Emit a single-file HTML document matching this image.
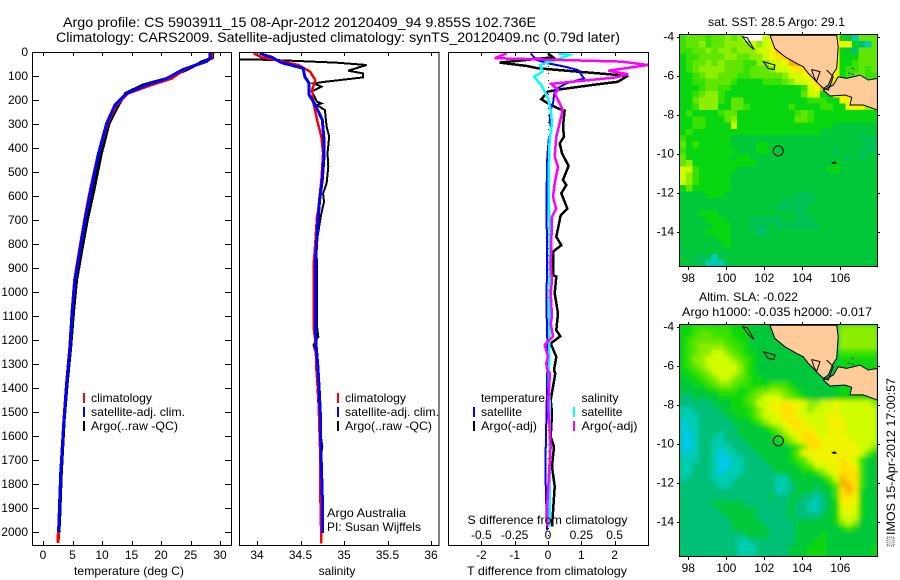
<!DOCTYPE html>
<html>
<head>
<meta charset="utf-8">
<style>
html,body{margin:0;padding:0;background:#fff;}
svg{display:block;}
text{font-family:"Liberation Sans",sans-serif;font-size:12px;fill:#000;}
</style>
</head>
<body>
<svg id="chart" xmlns="http://www.w3.org/2000/svg" width="900" height="580" viewBox="0 0 900 580">
<defs>
<clipPath id="clip-t"><rect x="33" y="52" width="198" height="493"/></clipPath>
<clipPath id="clip-s"><rect x="240" y="52" width="199" height="493"/></clipPath>
<clipPath id="clip-d"><rect x="449" y="52" width="199" height="493"/></clipPath>
<clipPath id="clip-m1"><rect x="680" y="35" width="197" height="232"/></clipPath>
<clipPath id="clip-m2"><rect x="680" y="325" width="197" height="232"/></clipPath>
<filter id="smooth" x="-5%" y="-5%" width="110%" height="110%"><feGaussianBlur stdDeviation="2"/></filter>
</defs>
<rect width="900" height="580" fill="#fff"/>
<text x="63" y="27" style="font-size:14px" textLength="473" lengthAdjust="spacingAndGlyphs">Argo profile: CS 5903911_15 08-Apr-2012 20120409_94 9.855S 102.736E</text>
<text x="56" y="42" style="font-size:14px" textLength="564" lengthAdjust="spacingAndGlyphs">Climatology: CARS2009. Satellite-adjusted climatology: synTS_20120409.nc (0.79d later)</text>

<g id="panel-t"></g>
<g id="panel-s"></g>
<g id="panel-d"></g>
<g id="map-1"></g>
<g id="map-2"></g>

<text x="129" y="575" text-anchor="middle" textLength="110" lengthAdjust="spacingAndGlyphs">temperature (deg C)</text>
<text x="337" y="575" text-anchor="middle">salinity</text>
<text x="547" y="575" text-anchor="middle" textLength="160" lengthAdjust="spacingAndGlyphs">T difference from climatology</text>
<text x="547.5" y="524" text-anchor="middle" textLength="160" lengthAdjust="spacingAndGlyphs">S difference from climatology</text>

<g>
<rect x="83" y="393" width="2" height="10" fill="#f00"/>
<text x="91" y="402" textLength="61" lengthAdjust="spacingAndGlyphs">climatology</text>
<rect x="83" y="407" width="2" height="10" fill="#00f"/>
<text x="91" y="416" textLength="94" lengthAdjust="spacingAndGlyphs">satellite-adj. clim.</text>
<rect x="83" y="421" width="2" height="10" fill="#000"/>
<text x="91" y="430" textLength="87" lengthAdjust="spacingAndGlyphs">Argo(..raw -QC)</text>
</g>
<g>
<rect x="337" y="393" width="2" height="10" fill="#f00"/>
<text x="345" y="402" textLength="61" lengthAdjust="spacingAndGlyphs">climatology</text>
<rect x="337" y="407" width="2" height="10" fill="#00f"/>
<text x="345" y="416" textLength="94" lengthAdjust="spacingAndGlyphs">satellite-adj. clim.</text>
<rect x="337" y="421" width="2" height="10" fill="#000"/>
<text x="345" y="430" textLength="87" lengthAdjust="spacingAndGlyphs">Argo(..raw -QC)</text>
</g>
<g>
<text x="481" y="402" textLength="64" lengthAdjust="spacingAndGlyphs">temperature</text>
<rect x="473" y="407" width="2" height="10" fill="#00f"/>
<text x="481" y="416" textLength="41" lengthAdjust="spacingAndGlyphs">satellite</text>
<rect x="473" y="421" width="2" height="10" fill="#000"/>
<text x="481" y="430" textLength="56" lengthAdjust="spacingAndGlyphs">Argo(-adj)</text>
<text x="581.5" y="402" textLength="37" lengthAdjust="spacingAndGlyphs">salinity</text>
<rect x="573" y="407" width="2" height="10" fill="#0ff"/>
<text x="581.5" y="416" textLength="41" lengthAdjust="spacingAndGlyphs">satellite</text>
<rect x="573" y="421" width="2" height="10" fill="#f0f"/>
<text x="581.5" y="430" textLength="56" lengthAdjust="spacingAndGlyphs">Argo(-adj)</text>
</g>
<text x="327" y="517" textLength="79" lengthAdjust="spacingAndGlyphs">Argo Australia</text>
<text x="327" y="531" textLength="94" lengthAdjust="spacingAndGlyphs">PI: Susan Wijffels</text>

<text x="776.5" y="26" text-anchor="middle" textLength="137" lengthAdjust="spacingAndGlyphs">sat. SST: 28.5 Argo: 29.1</text>
<text x="748.5" y="301" text-anchor="middle" textLength="99" lengthAdjust="spacingAndGlyphs">Altim. SLA: -0.022</text>
<text x="777" y="316" text-anchor="middle" textLength="190" lengthAdjust="spacingAndGlyphs">Argo h1000: -0.035 h2000: -0.017</text>

<g>
<rect x="887" y="537" width="7" height="9" fill="#ddd" stroke="#555" stroke-width="1" stroke-dasharray="1 1"/>
<text transform="translate(895 535) rotate(-90)" textLength="157" lengthAdjust="spacingAndGlyphs">IMOS 15-Apr-2012 17:00:57</text>
</g>
</svg>
<script>
/* ---- temperature panel data ---- */
const tempDepth = [0,25,40,72,110,137,172,221,297,422,589,700,838,950,1075,1229,1380,1533,1754,1963,2045];
const tempClim  = [28.6,28.5,27.6,24,21.8,18.3,14.4,12.4,10.9,9.4,7.9,7.05,6.1,5.35,4.95,4.55,4.0,3.55,3.0,2.7,2.5];
const tempSatDepth = [0,25,40,72,110,137,172,221,297,422,589,700,838,950,1075,1229,1380,1533,1754,1963,2000];
const tempSat   = [28.3,28.3,27.7,23.8,21,17.6,14.2,12.2,10.8,9.4,8,7.1,6.16,5.4,4.97,4.58,4.0,3.56,3.0,2.7,2.65];
const tempArgoDepth = [0,25,40,72,110,137,172,221,297,422,589,700,838,950,1075,1229,1380,1533,1754,1963,2030];
const tempArgo  = [28.8,28.7,27,24.5,21,17,14,12.8,11.2,9.9,8.5,7.5,6.5,5.7,5.2,4.7,4.1,3.6,3.1,2.8,2.6];
const tempTicks = [0,5,10,15,20,25,30];
const depthTicks = [0,100,200,300,400,500,600,700,800,900,1000,1100,1200,1300,1400,1500,1600,1700,1800,1900,2000];

/* ---- salinity panel data ---- */
const salClimDepth = [6,22,36,54,82,117,158,214,297,353,422,533,603,658,686,797,895,1145,1200,1284,1339,1422,1658,1880,2047];
const salClim      = [33.96,34.05,34.245,34.475,34.61,34.67,34.635,34.65,34.70,34.74,34.76,34.74,34.72,34.705,34.69,34.67,34.65,34.65,34.67,34.68,34.685,34.705,34.725,34.73,34.74];
const salSatDepth  = [6,22,44,68,103,131,179,221,283,367,436,533,617,658,770,895,1145,1228,1311,1408,1505,1658,1853,2005];
const salSat       = [34.03,34.17,34.28,34.53,34.55,34.60,34.60,34.67,34.75,34.77,34.77,34.75,34.72,34.71,34.69,34.67,34.67,34.68,34.70,34.715,34.728,34.735,34.75,34.75];
const salArgoDepth = [26,31,33,44,54,78,89,106,124,131,144,165,207,214,221,242,311,353,422,478,547,589,624,672,825,867,1145,1186,1221,1270,1367,1464,1561,1644,1700];
const salArgo      = [33.70,33.80,34.17,34.90,35.26,35.05,35.22,35.22,34.78,34.65,34.74,34.63,34.69,34.74,34.69,34.78,34.80,34.83,34.81,34.82,34.80,34.76,34.77,34.74,34.67,34.69,34.69,34.705,34.65,34.69,34.69,34.705,34.72,34.75,34.73];
const salTicks = [34,34.5,35,35.5,36];

/* ---- difference panel data ---- */
const dTSatDepth  = [6,33,47,61,75,110,131,158,214,242,283,325,367,436,631,700,756,922,1034,1200,1325,1464,1658,1797,1992];
const dTSat       = [-.52,-.35,0,.5,.9,1.08,.55,.2,.15,.08,.05,.1,.02,-.02,-.05,-.05,-.03,-.03,-.05,-.02,-.02,-.04,-.07,-.07,-.03];
const dTArgoDepth = [6,22,44,58,68,96,103,124,138,155,165,197,214,235,244,311,353,381,422,475,533,554,589,652,680,770,805,832,930,936,1006,1089,1159,1184,1214,1270,1325,1339,1450,1505,1603,1644,1728,1811,1978];
const dTArgo      = [0,.15,-1.45,-.65,-.3,2.1,2.35,2.1,1.3,.4,0,-.2,0,.3,.5,.45,.48,.35,.42,.62,.45,.55,.4,.58,.38,.25,.4,.15,.15,.25,.2,.3,.25,.37,.08,.25,.18,.22,.08,.12,.08,.18,.12,.2,.12];
const dSSatDepth  = [6,12,26,54,82,103,138,193,242,297,367,505,658,756,1311,1367,1505,1978];
const dSSat       = [.075,.16,.1,-.06,-.04,-.105,-.05,0,.02,.03,.012,.005,.0075,.015,.0075,.005,.015,.0125];
const dSArgoDepth = [6,26,40,54,78,92,106,133,158,172,214,242,325,353,436,478,547,603,631,652,686,798,895,950,1006,1103,1131,1186,1221,1270,1297,1325,1339,1464,1644,1880,1978];
const dSArgo      = [-.31,-.4,.55,.75,.45,.6,.51,.025,.075,.05,.0875,.11,.075,.0625,.05,.075,.05,.0375,.05,.0625,.03,.025,.02,.03,.02,.03,.02,.0375,-.025,0,-.0125,-.005,.015,0,.02,-.005,-.005];
const dTTicks = [-2,-1,0,1,2];
const dSTicks = [-0.5,-0.25,0,0.25,0.5];
const dSTickLabels = ['-0.5','-0.25','0','0.25','0.5'];

/* ---- map data: one character per cell, level into the colour scale, '.' = no data ---- */
const sstRows = [
"5666566767...899999999999431666",
"5667566777787899a9999999999421666",
"55667677677788" + "9bb99999999432666",
"45566667766778" + "9aaa9999999444666",
"45667676665577" + "889bba99999445666",
"45677776665666" + "7889aa99999455656",
"44567766655666" + "6678899ab99456655",
"44556666544445" + "5567889aab9455565",
"44456655444444" + "44444589b01444444",
"44567754444444" + "44444688449999999",
"44677754664444" + "44444455544999999",
"44577744665444444544445544" + "99977",
"45444456644444444456544444" + "44444",
"4455444674444444446654444444444",
"4455444484444444444444443333333",
"4544444444444444444444333333333",
"5444444433333333333333333333ccc",
"64544444333344333333333333333cc",
"544444444333443333333333c333ccc",
"64444444344333333333333333c3c33",
"6744444444443333333333334333333",
"8854444443333333333333344333333",
"8754444433333333333333333333333",
"8754444433333333333333333333333",
"4644444433333333333333333333333",
"333344433333333333ccc3333333333",
"3333333333333333ccccc3333333333",
"333333333333333ccccc33333333333",
"333444333333333333cc33333333333",
"33334443333ccccc33ccc3333333333",
"33333444333ccc3ccccccc333333333",
"3333444433332c33333333333333333",
"3333334433333333333333333333333",
"3333333433333333333333333333333",
"c333333333333333333333333333333",
"33ccc1c333333333333333333333333",
"33cc111c33333333333333333333333"
];
const slaRows = [
"4455555544433333333333333777777",
"4456655544433333333333333777777",
"4566666554433333333333333777777",
"4567777655433333333333333777777",
"4567788765443333333333333555555",
"4577888876543333333333333444444",
"4567888887543333333333333444444",
"4456788887543333333333333444444",
"3445678876544333333333333444444",
"3344567765544455543333333444444",
"3333445554456677654333333444444",
"2233334444567888765433334444444",
"2222233344568899a99877889888887",
"1122223344457899aa9878889888888",
"1112222334457889aa9888899888888",
"01122222333457889aa988899988888",
"011222222333345789a998899988888",
"00122212233333457 89aa9899988888".replace(' ',''),
"001221122233333457 8aaa999998888".replace(' ',''),
"00122111222333333 457aa9999998875".replace(' ',''),
"0112210112223333 3469999999998643".replace(' ',''),
"1112210011222333 3456899 99a98533".replace(/ /g,''),
"1122210011222233 3345688 99aa9533".replace(/ /g,''),
"1122210111222223 3334457 89aaa533".replace(/ /g,''),
"1222211112222221 1333334 68baa533".replace(/ /g,''),
"2222221122222221 1233333 46bba533".replace(/ /g,''),
"2222222222222221 1233323 35aba433".replace(/ /g,''),
"2222222222222232 2332212 35aa9433".replace(/ /g,''),
"2222233333222222 2322112 34999433".replace(/ /g,''),
"2222223333332222 2322112 34898433".replace(/ /g,''),
"2222222333332222 2322223 34888433".replace(/ /g,''),
"2222222233333222 2233333 34787333".replace(/ /g,''),
"2222222233333322 2233333 33454333".replace(/ /g,''),
"2222222222333322 2233334 33333333".replace(/ /g,''),
"2222222221122222 2233344 33333333".replace(/ /g,''),
"2222222221112222 2333444 33333334".replace(/ /g,''),
"2222222221112222 2333444 33333334".replace(/ /g,'')
];
const mapLonTicks = [98,100,102,104,106];
const mapLatTicks = [-4,-6,-8,-10,-12,-14];
const floatLon = 102.736;
const floatLat = -9.855;

/* coastline, in lon/lat */
const sumatraLon = [102.30,102.56,103.09,103.70,104.05,104.32,104.75,105.11,105.37,105.63,105.81,105.89,105.81];
const sumatraLat = [-3.93,-4.60,-5.03,-5.37,-5.54,-5.88,-6.31,-6.65,-6.48,-5.88,-5.62,-4.51,-3.93];
const javaLon = [105.89,106.33,107.04,107.47,107.95,107.95,107.21,106.51,106.60,106.25,105.46,105.11,105.63];
const javaLat = [-6.05,-6.14,-5.97,-6.22,-6.14,-7.76,-7.50,-7.50,-7.11,-6.99,-7.04,-6.74,-6.48];
const isleALon = [100.86,101.1,101.46,101.2];
const isleALat = [-4.0,-4.05,-4.65,-4.45];
const isleBLon = [101.95,102.56,102.51,102.21];
const isleBLat = [-5.28,-5.45,-5.68,-5.63];
const isleCLon = [105.58,105.7,105.78,105.65];
const isleCLat = [-10.46,-10.42,-10.48,-10.5];
const bayALon = [104.49,104.93,104.75,104.61,104.49];
const bayALat = [-5.68,-5.79,-6.31,-6.05,-5.68];
const bayBLon = [105.28,105.63,105.37,105.11];
const bayBLat = [-5.71,-6.05,-6.74,-6.65];
const reefLon = [106.6,106.6,106.4];
const reefLat = [-5.6,-5.9,-5.85];

const levelColors = {'.':'#ffffff','0':'#00c8e8','1':'#00ccb0','2':'#00c078','c':'#00c254','3':'#00c838','4':'#08d610','5':'#38e200','6':'#60e600','7':'#8cee00','8':'#d0fc00','9':'#f0f400','a':'#ffe000','b':'#f8b800'};

const NS = 'http://www.w3.org/2000/svg';
const depthY = d => 52 + 0.24 * d;
const tempX = t => 43 + 5.9 * t;
const salX = s => 257 + 87 * (s - 34);
const dTX = t => 548 + 33.3 * t;
const dSX = s => 548 + 133.3 * s;
const lonX = lon => 688.3 + 19 * (lon - 98);
const latY = (lat, top) => top + 1.7 + 19.5 * (-4 - lat);

function mk(tag, parent, attrs, name) {
  const el = document.createElementNS(NS, tag);
  for (const k in attrs) el.setAttribute(k, attrs[k]);
  
  
  parent.appendChild(el);
  return el;
}
function profile(parent, clip, name, depths, values, xf, color, width) {
  const pts = values.map((v, i) => xf(v).toFixed(1) + ',' + depthY(depths[i]).toFixed(1)).join(' ');
  mk('polyline', parent, {points: pts, fill: 'none', stroke: color, 'stroke-width': width, 'clip-path': 'url(#' + clip + ')', 'stroke-linejoin': 'miter', 'shape-rendering': 'crispEdges'}, name);
}
function frame(parent, x, y, w, h) {
  mk('rect', parent, {x: x + .5, y: y + .5, width: w, height: h, fill: 'none', stroke: '#000', 'stroke-width': 1}, 'plot-frame');
}
function xTicks(parent, vals, labels, xf, labelY, name) {
  vals.forEach((v, i) => {
    const x = Math.round(xf(v)) + .5;
    mk('line', parent, {x1: x, x2: x, y1: 52, y2: 56, stroke: '#000'}, name + '-top-tick');
    mk('line', parent, {x1: x, x2: x, y1: 541, y2: 545, stroke: '#000'}, name + '-bottom-tick');
    const t = mk('text', parent, {x: xf(v), y: labelY, 'text-anchor': 'middle'}, name + '-tick-label');
    t.textContent = labels[i];
  });
}

/* temperature panel */
const pT = document.getElementById('panel-t');
profile(pT, 'clip-t', 'temperature-argo-line', tempArgoDepth, tempArgo, tempX, '#000', 3);
profile(pT, 'clip-t', 'temperature-climatology-line', tempDepth, tempClim, tempX, '#f00', 3);
profile(pT, 'clip-t', 'temperature-satellite-line', tempSatDepth, tempSat, tempX, '#00f', 3);
frame(pT, 32, 52, 199, 493);
xTicks(pT, tempTicks, tempTicks, tempX, 559, 'temperature-axis');
depthTicks.forEach(d => {
  const y = Math.round(depthY(d)) + .5;
  mk('line', pT, {x1: 33, x2: 39, y1: y, y2: y, stroke: '#000'}, 'depth-left-tick');
  mk('line', pT, {x1: 225, x2: 231, y1: y, y2: y, stroke: '#000'}, 'depth-right-tick');
  const t = mk('text', pT, {x: 28, y: depthY(d) + 4, 'text-anchor': 'end'}, 'depth-tick-label');
  t.textContent = d;
});

/* salinity panel */
const pS = document.getElementById('panel-s');
profile(pS, 'clip-s', 'salinity-argo-line', salArgoDepth, salArgo, salX, '#000', 2);
profile(pS, 'clip-s', 'salinity-climatology-line', salClimDepth, salClim, salX, '#f00', 2.5);
profile(pS, 'clip-s', 'salinity-satellite-line', salSatDepth, salSat, salX, '#00f', 3);
frame(pS, 239, 52, 199.5, 493);
xTicks(pS, salTicks, salTicks, salX, 559, 'salinity-axis');

/* difference panel */
const pD = document.getElementById('panel-d');
mk('line', pD, {x1: 548.5, x2: 548.5, y1: 52, y2: 545, stroke: '#000', 'stroke-dasharray': '1 6'}, 'zero-difference-line');
profile(pD, 'clip-d', 't-difference-argo-line', dTArgoDepth, dTArgo, dTX, '#000', 2.5);
profile(pD, 'clip-d', 't-difference-satellite-line', dTSatDepth, dTSat, dTX, '#00f', 2);
profile(pD, 'clip-d', 's-difference-satellite-line', dSSatDepth, dSSat, dSX, '#0ff', 2.5);
profile(pD, 'clip-d', 's-difference-argo-line', dSArgoDepth, dSArgo, dSX, '#f0f', 2.5);
frame(pD, 448, 52, 200, 493);
xTicks(pD, dTTicks, dTTicks, dTX, 559, 't-difference-axis');
dSTicks.forEach((v, i) => {
  const t = mk('text', pD, {x: dSX(v), y: 539, 'text-anchor': 'middle'}, 's-difference-tick-label');
  t.textContent = dSTickLabels[i];
});

/* maps */
function polyPts(lons, lats, top) {
  return lons.map((l, i) => lonX(l).toFixed(1) + ',' + latY(lats[i], top).toFixed(1)).join(' ');
}
function drawMap(id, rows, top, clip, smooth) {
  const g = document.getElementById(id);
  const holder = mk('g', g, {'clip-path': 'url(#' + clip + ')'}, 'map-clip-group');
  mk('rect', holder, {x: 680, y: top, width: 197, height: 232, fill: '#00c838'}, 'map-background');
  const cells = mk('g', holder, smooth ? {filter: 'url(#smooth)'} : {'shape-rendering': 'crispEdges'}, 'heatmap-cells');
  const lon0 = 97.55, lonStep = 0.336, lat0 = -3.9, latStep = 0.3215;
  rows.forEach((row, r) => {
    for (let c = 0; c < row.length; c++) {
      const ch = row[c];
      if (!levelColors[ch]) continue;
      const x = lonX(lon0 + c * lonStep);
      const y = latY(lat0 - r * latStep, top);
      mk('rect', cells, {x: x.toFixed(1), y: y.toFixed(1), width: 6.9, height: 6.7, fill: levelColors[ch]}, 'heatmap-cell');
    }
  });
  const land = {fill: '#ffcc99', stroke: '#000', 'stroke-width': 1};
  mk('polygon', holder, Object.assign({points: polyPts(sumatraLon, sumatraLat, top)}, land), 'sumatra-land');
  mk('polygon', holder, Object.assign({points: polyPts(javaLon, javaLat, top)}, land), 'java-land');
  const outline = {fill: 'none', stroke: '#000', 'stroke-width': 1};
  mk('polygon', holder, Object.assign({points: polyPts(isleALon, isleALat, top)}, outline), 'island-outline');
  mk('polygon', holder, Object.assign({points: polyPts(isleBLon, isleBLat, top)}, outline), 'island-outline');
  mk('polygon', holder, Object.assign({points: polyPts(isleCLon, isleCLat, top)}, {fill: '#000', stroke: '#000'}), 'christmas-island');
  mk('polyline', holder, Object.assign({points: polyPts(bayALon, bayALat, top)}, outline), 'bay-outline');
  mk('polyline', holder, Object.assign({points: polyPts(bayBLon, bayBLat, top)}, outline), 'bay-outline');
  reefLon.forEach((l, i) => {
    mk('rect', holder, {x: lonX(l), y: latY(reefLat[i], top), width: 2, height: 1, fill: '#000'}, 'reef-mark');
  });
  mk('circle', holder, {cx: lonX(floatLon), cy: latY(floatLat, top), r: 5, fill: 'none', stroke: '#000', 'stroke-width': 1}, 'float-position-marker');
  mk('rect', g, {x: 679.5, y: top - .5, width: 198, height: 232, fill: 'none', stroke: '#000'}, 'map-frame');
  mapLonTicks.forEach(l => {
    const x = Math.round(lonX(l)) + .5;
    mk('line', g, {x1: x, x2: x, y1: top - 3, y2: top, stroke: '#000'}, 'lon-top-tick');
    mk('line', g, {x1: x, x2: x, y1: top + 232, y2: top + 235, stroke: '#000'}, 'lon-bottom-tick');
    const t = mk('text', g, {x: lonX(l), y: top + 247, 'text-anchor': 'middle'}, 'lon-tick-label');
    t.textContent = l;
  });
  mapLatTicks.forEach(l => {
    const y = Math.round(latY(l, top)) + .5;
    mk('line', g, {x1: 677, x2: 680, y1: y, y2: y, stroke: '#000'}, 'lat-left-tick');
    mk('line', g, {x1: 877, x2: 880, y1: y, y2: y, stroke: '#000'}, 'lat-right-tick');
    const t = mk('text', g, {x: 674, y: latY(l, top) + 4, 'text-anchor': 'end'}, 'lat-tick-label');
    t.textContent = l;
  });
}
drawMap('map-1', sstRows, 35, 'clip-m1', false);
drawMap('map-2', slaRows, 325, 'clip-m2', true);
</script>
</body>
</html>
